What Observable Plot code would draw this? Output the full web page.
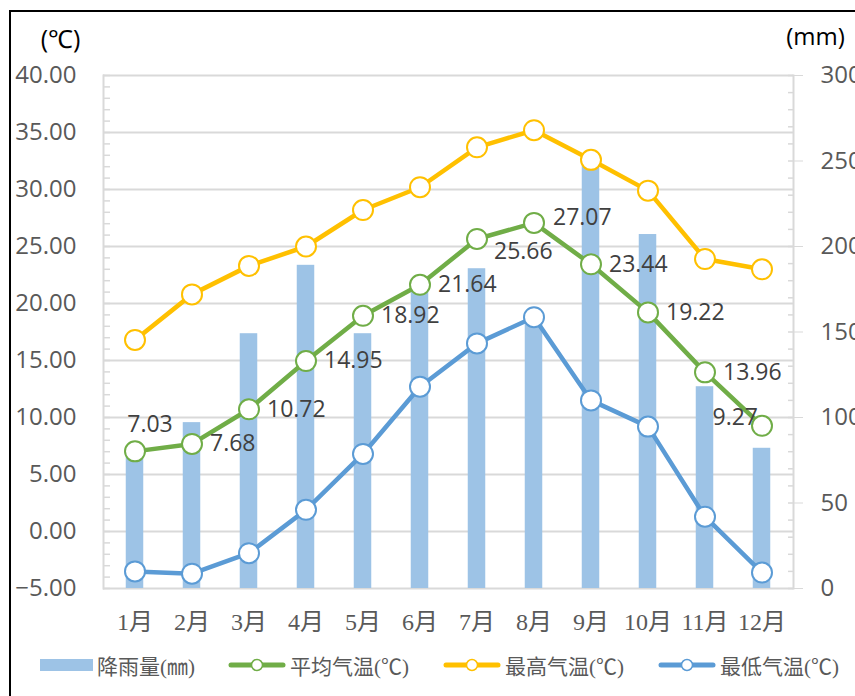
<!DOCTYPE html>
<html>
<head>
<meta charset="utf-8">
<script src="https://cdn.jsdelivr.net/npm/d3@7"></script>
<script src="https://cdn.jsdelivr.net/npm/@observablehq/plot@0.6"></script>
<style>
  body { margin: 0; background: #fff; width: 855px; height: 696px; overflow: hidden; position: relative; }
  #frame { position: absolute; left: 9px; top: 10px; width: 900px; height: 720px; border: 2px solid #000; box-sizing: border-box; pointer-events: none; }
  #chart { position: absolute; left: 0; top: 0; }
  #legend { position: absolute; left: 0; top: 650px; width: 855px; height: 30px;
            font-family: "Liberation Serif", "Noto Sans CJK SC", serif; font-size: 21px; color: #595959; }
  .item { position: absolute; top: 0; height: 30px; display: flex; align-items: center; white-space: nowrap; }
  .item span { margin-left: 4px; }
</style>
</head>
<body>
<div id="chart"></div>
<div id="legend"></div>
<div id="frame"></div>
<script>
const months = ["1月","2月","3月","4月","5月","6月","7月","8月","9月","10月","11月","12月"];
const rainfall = [80, 97, 149, 189, 149, 177, 187, 157, 252, 207, 118, 82];
const avgTemp = [7.03, 7.68, 10.72, 14.95, 18.92, 21.64, 25.66, 27.07, 23.44, 19.22, 13.96, 9.27];
const maxTemp = [16.8, 20.8, 23.3, 25.0, 28.2, 30.2, 33.7, 35.2, 32.6, 29.9, 23.9, 23.0];
const minTemp = [-3.5, -3.7, -1.9, 1.9, 6.8, 12.7, 16.5, 18.8, 11.5, 9.2, 1.3, -3.6];
const seriesNames = ["降雨量(㎜)", "平均气温(℃)", "最高气温(℃)", "最低气温(℃)"];
const tempTicks = [-5, 0, 5, 10, 15, 20, 25, 30, 35, 40];
const rainTicks = [0, 50, 100, 150, 200, 250, 300];

const colors = { rain: "#9DC3E6", avg: "#70AD47", max: "#FFC000", min: "#5B9BD5" };
const tLo = -5, tHi = 40, rLo = 0, rHi = 300;
const rainToTemp = r => tLo + (r - rLo) * (tHi - tLo) / (rHi - rLo);
const tempToRain = t => rLo + (t - tLo) * (rHi - rLo) / (tHi - tLo);

const data = months.map((m, i) => ({ month: m, rain: rainfall[i], avg: avgTemp[i], max: maxTemp[i], min: minTemp[i] }));

const numFont = "Open Sans, Liberation Sans, sans-serif";

function lineWithDots(key) {
  return [
    Plot.line(data, { x: "month", y: key, stroke: colors[key], strokeWidth: 4.5 }),
    Plot.dot(data, { x: "month", y: key, r: 10, fill: "white", stroke: colors[key], strokeWidth: 2 })
  ];
}

const labelStyle = { x: "month", y: "avg", text: d => d.avg.toFixed(2), fill: "#404040", fontSize: 23, fontFamily: numFont, stroke: null };
const first = months[0], last = months[months.length - 1];

const chart = Plot.plot({
  width: 855,
  height: 645,
  marginLeft: 103,
  marginRight: 62,
  marginTop: 75,
  marginBottom: 57,
  style: { background: "transparent", overflow: "visible" },
  x: { type: "band", domain: months, padding: 0, axis: null },
  y: { domain: [tLo, tHi], axis: null },
  marks: [
    Plot.ruleY(tempTicks, { stroke: "#D9D9D9", strokeWidth: 2 }),
    Plot.axisY(d3.range(tLo, tHi + 0.1, 1), { anchor: "left", tickSize: 7, dx: 7, tickFormat: () => "", stroke: "#D9D9D9", strokeWidth: 1.5, label: null }),
    Plot.axisY(d3.range(rLo, rHi + 1, 10).map(rainToTemp), { anchor: "right", tickSize: 6, dx: -6, tickFormat: () => "", stroke: "#D9D9D9", strokeWidth: 1.5, label: null }),
    Plot.axisY(tempTicks, { anchor: "left", tickSize: 0, tickPadding: 27, tickFormat: d3.format(".2f"), fontSize: 24, fontFamily: numFont, color: "#595959", label: null }),
    Plot.axisY(rainTicks.map(rainToTemp), { anchor: "right", tickSize: 9, tickPadding: 18, tickFormat: t => Math.round(tempToRain(t)), fontSize: 24, fontFamily: numFont, color: "#595959", stroke: "#D9D9D9", label: null }),
    Plot.frame({ anchor: "left", stroke: "#D9D9D9", strokeWidth: 2 }),
    Plot.frame({ anchor: "right", stroke: "#D9D9D9", strokeWidth: 2 }),
    Plot.barY(data, { x: "month", y1: tLo, y2: d => rainToTemp(d.rain), fill: colors.rain, insetLeft: 19.75, insetRight: 19.75 }),
    Plot.axisX({ anchor: "bottom", tickSize: 0, tickPadding: 24, fontSize: 24, fontFamily: "Liberation Serif, Noto Sans CJK SC, serif", color: "#595959", label: null }),
    ...lineWithDots("avg"),
    ...lineWithDots("max"),
    ...lineWithDots("min"),
    Plot.text(data, { ...labelStyle, filter: d => d.month !== first && d.month !== last && d.month !== "7月" && d.month !== "8月", textAnchor: "start", dx: 18 }),
    Plot.text(data, { ...labelStyle, filter: d => d.month === "7月", textAnchor: "start", dx: 17, dy: 13 }),
    Plot.text(data, { ...labelStyle, filter: d => d.month === "8月", textAnchor: "start", dx: 19, dy: -5 }),
    Plot.text(data, { ...labelStyle, filter: d => d.month === first, textAnchor: "middle", dx: 15, dy: -27 }),
    Plot.text(data, { ...labelStyle, filter: d => d.month === last, textAnchor: "end", dx: -4, dy: -8 }),
    Plot.text(["(℃)"], { frameAnchor: "top-left", lineAnchor: "middle", dx: -43, dy: -36, text: d => d, textAnchor: "middle", fontSize: 25, fontFamily: numFont, fill: "#000" }),
    Plot.text(["(mm)"], { frameAnchor: "top-right", lineAnchor: "middle", dx: 22, dy: -38, text: d => d, textAnchor: "middle", fontSize: 24, fontFamily: numFont, fill: "#000" })
  ]
});
document.getElementById("chart").appendChild(chart);

// legend
const legend = document.getElementById("legend");
const legendDefs = [
  { name: seriesNames[0], color: colors.rain, kind: "bar", left: 40 },
  { name: seriesNames[1], color: colors.avg, kind: "line", left: 228 },
  { name: seriesNames[2], color: colors.max, kind: "line", left: 443 },
  { name: seriesNames[3], color: colors.min, kind: "line", left: 658 }
];
for (const s of legendDefs) {
  const item = document.createElement("div");
  item.className = "item";
  item.style.left = s.left + "px";
  const svgNS = "http://www.w3.org/2000/svg";
  const sw = document.createElementNS(svgNS, "svg");
  sw.setAttribute("width", s.kind === "bar" ? 53 : 58);
  sw.setAttribute("height", 16);
  if (s.kind === "bar") {
    const r = document.createElementNS(svgNS, "rect");
    r.setAttribute("x", 0); r.setAttribute("y", 2); r.setAttribute("width", 53); r.setAttribute("height", 12);
    r.setAttribute("fill", s.color);
    sw.appendChild(r);
  } else {
    const l = document.createElementNS(svgNS, "line");
    l.setAttribute("x1", 3); l.setAttribute("x2", 55); l.setAttribute("y1", 8); l.setAttribute("y2", 8);
    l.setAttribute("stroke", s.color); l.setAttribute("stroke-width", 5); l.setAttribute("stroke-linecap", "round");
    const c = document.createElementNS(svgNS, "circle");
    c.setAttribute("cx", 29); c.setAttribute("cy", 8); c.setAttribute("r", 5.5);
    c.setAttribute("fill", "white"); c.setAttribute("stroke", s.color); c.setAttribute("stroke-width", 1.5);
    sw.appendChild(l); sw.appendChild(c);
  }
  const t = document.createElement("span");
  t.textContent = s.name;
  item.appendChild(sw); item.appendChild(t);
  legend.appendChild(item);
}
</script>
</body>
</html>
